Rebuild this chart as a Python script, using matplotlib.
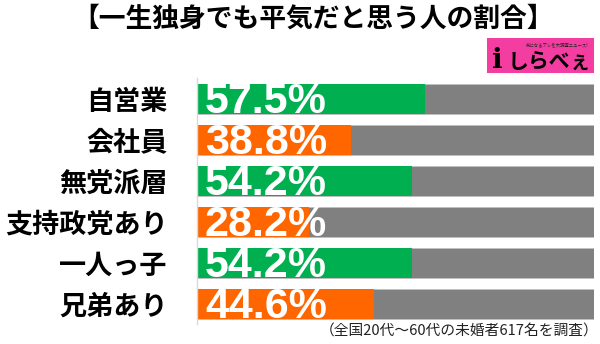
import matplotlib.pyplot as plt
from matplotlib.patches import Rectangle

plt.rcParams['font.family'] = ['Noto Sans CJK JP', 'DejaVu Sans']

# data
categories = ["自営業", "会社員", "無党派層", "支持政党あり", "一人っ子", "兄弟あり"]
values = [57.5, 38.8, 54.2, 28.2, 54.2, 44.6]
bar_colors = ["#00B050", "#FF6600", "#00B050", "#FF6600", "#00B050", "#FF6600"]
title = "【一生独身でも平気だと思う人の割合】"
note = "（全国20代～60代の未婚者617名を調査）"

W, H = 600, 344
fig = plt.figure(figsize=(W / 100, H / 100), dpi=100)
fig.patch.set_facecolor("white")

# axes placed in pixel terms: x 197..594, y 78..324
ax = fig.add_axes([197 / W, 1 - 324 / H, (594 - 197) / W, 246 / H])
pos = list(range(len(categories)))
bh = 30 / 41
ax.barh(pos, [100] * len(values), height=bh, color="#808080",
        edgecolor="#BFBFBF", linewidth=0.6)
ax.barh(pos, values, height=bh, color=bar_colors, linewidth=0)
ax.set_xlim(0, 100)
ax.set_ylim(len(categories) - 0.5, -0.5)

for y, v in zip(pos, values):
    ax.text(2, y + 0.08, f"{v}%", color="white", fontsize=31, fontweight="bold",
            family=["Liberation Sans", "DejaVu Sans"], ha="left", va="center")

ax.set_yticks(pos)
ax.set_yticklabels(categories, fontsize=19.5, fontweight="bold")
ax.tick_params(axis="y", length=0, pad=21)
ax.set_xticks([])
for s in ["top", "right", "bottom"]:
    ax.spines[s].set_visible(False)
ax.spines["left"].set_color("#D9D9D9")
ax.spines["left"].set_linewidth(1)

fig.text(313 / W, 1 - 19 / H, title, ha="center", va="center", fontsize=19.3,
         fontweight="bold")
fig.text(598 / W, 1 - 332 / H, note, ha="right", va="center", fontsize=10.6,
         color="#222222")

# logo box
logo = fig.add_axes([487 / W, 1 - 73 / H, 107 / W, 35 / H])
logo.set_xlim(0, 107)
logo.set_ylim(0, 35)
logo.axis("off")
logo.add_patch(Rectangle((0, 0), 107, 35, color="#F43DA0"))
logo.text(70, 28, "気になるアレを大調査ニュース!", fontsize=3.2, ha="center",
          va="center", color="#222222")
logo.text(10, 13, "i", fontsize=20, fontweight="bold", ha="center", va="center",
          family=["DejaVu Serif"], color="black")
logo.text(62, 12, "しらべぇ", fontsize=15, fontweight="bold", ha="center",
          va="center", color="black")

fig.savefig("out.png", dpi=100, facecolor="white")
